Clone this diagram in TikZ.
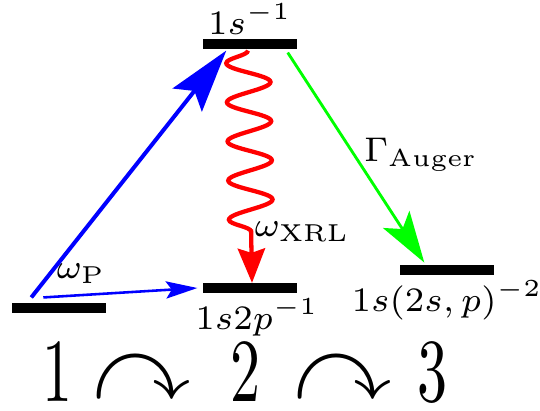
\documentclass[tikz,border=0pt]{standalone}
\usepackage{amsmath,amssymb}
\usepackage{xcolor}
\usepackage{graphicx}
\usetikzlibrary{arrows.meta,decorations.pathmorphing,positioning}

\newcommand{\lvtext}[1]{\scalebox{1.714}{\fontsize{7}{8}\selectfont #1}}

\begin{document}
\begin{tikzpicture}[x=0.35pt, y=-0.35pt,
  level/.style={rectangle, fill=black, minimum width=33pt, minimum height=3.2pt, inner sep=0pt},
  lab/.style={inner sep=1pt},
  seqitem/.style={inner sep=0pt}]
\useasboundingbox (0,0) rectangle (540,410);
\node[level] (g) at (59,308) {};
\node[level] (core) at (250,44) {};
\node[level] (xrl) at (250,288) {};
\node[level] (aug) at (447,270) {};
\node[lab, above=0.3pt of core] (tcore) {\lvtext{$1s^{-1}$}};
\node[lab, below=0.5pt of xrl, xshift=2.5pt] (txrl) {\lvtext{$1s2p^{-1}$}};
\node[lab, below=0.5pt of aug] (taug) {\lvtext{$1s(2s,p)^{-2}$}};
\node[lab] (wp) at (81,274) {\lvtext{$\omega_{\mathrm{P}}$}};
\node[lab] (wx) at (302,232) {\lvtext{$\omega_{\mathrm{XRL}}$}};
\node[lab] (ga) at (421,155) {\lvtext{$\Gamma_{\mathrm{Auger}}$}};
% transitions
\draw[blue, line width=1.4pt, -{Stealth[length=22pt,width=13pt,inset=4pt]}]
  ([xshift=7pt,yshift=1.9pt]g.north west) -- ([xshift=8.4pt,yshift=-0.5pt]core.south west);
\draw[blue, line width=0.9pt, -{Stealth[length=11pt,width=6pt,inset=2pt]}]
  ([xshift=11.2pt,yshift=1.9pt]g.north west) -- ([xshift=-1.7pt]xrl.west);
\draw[green, line width=1pt, -{Stealth[length=18pt,width=11pt,inset=4pt]}]
  ([xshift=-3.5pt,yshift=-1.2pt]core.south east) -- ([xshift=8.75pt,yshift=0.8pt]aug.north west);
\draw[red, line width=1.5pt, decorate,
  decoration={snake, mirror, amplitude=7.7pt, segment length=13.7pt, post length=13pt},
  -{Stealth[length=12pt,width=9.5pt,inset=1.5pt]}]
  ([xshift=-0.7pt,yshift=-0.5pt]core.south) -- ([xshift=0.7pt]xrl.north);
% sequence
\node[seqitem] (s1) at (57,372) {\scalebox{2.1}[3.15]{$1$}};
\node[seqitem] (c1) at (142,378) {\scalebox{3.45}{$\curvearrowright$}};
\node[seqitem] (s2) at (245,372) {\scalebox{2.1}[3.15]{$2$}};
\node[seqitem] (c2) at (343,378) {\scalebox{3.45}{$\curvearrowright$}};
\node[seqitem] (s3) at (433,372) {\scalebox{2.1}[3.15]{$3$}};
\end{tikzpicture}
\end{document}
